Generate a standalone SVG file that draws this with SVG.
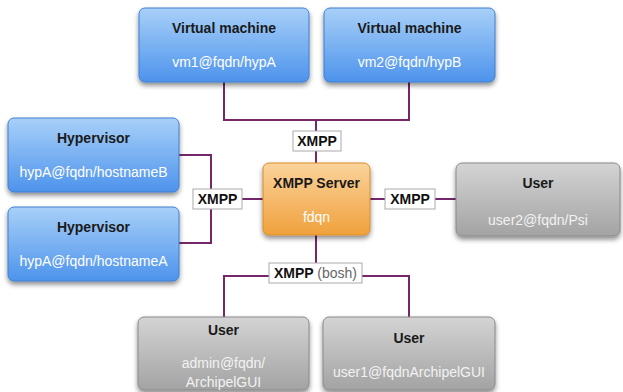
<svg xmlns="http://www.w3.org/2000/svg" width="623" height="392" viewBox="0 0 623 392">
<defs>
<linearGradient id="gBlue" x1="0" y1="0" x2="0" y2="1"><stop offset="0" stop-color="#a8d0f8"/><stop offset="1" stop-color="#4d93ec"/></linearGradient>
<linearGradient id="gGray" x1="0" y1="0" x2="0" y2="1"><stop offset="0" stop-color="#d4d4d4"/><stop offset="1" stop-color="#a3a3a3"/></linearGradient>
<linearGradient id="gOrange" x1="0" y1="0" x2="0" y2="1"><stop offset="0" stop-color="#fad39c"/><stop offset="1" stop-color="#f0a13c"/></linearGradient>
<filter id="sh" x="-10%" y="-10%" width="120%" height="130%"><feDropShadow dx="0" dy="3" stdDeviation="2.5" flood-color="#000" flood-opacity="0.45"/></filter>
</defs>
<style>
.blue{fill:url(#gBlue);stroke:#3f7fcf;stroke-width:1;filter:url(#sh)}
.gray{fill:url(#gGray);stroke:#888;stroke-width:1;filter:url(#sh)}
.orange{fill:url(#gOrange);stroke:#d98c2a;stroke-width:1;filter:url(#sh)}
.t{font-family:"Liberation Sans",Arial,sans-serif;font-size:14px;font-weight:bold;fill:#1a1a1a;text-anchor:middle}
.s{font-family:"Liberation Sans",Arial,sans-serif;font-size:14px;fill:#ffffff;text-anchor:middle}
.sg{font-family:"Liberation Sans",Arial,sans-serif;font-size:14px;fill:#f2f2f2;text-anchor:middle}
.ln{fill:none;stroke:#76266a;stroke-width:2}
.lb{fill:#fff;stroke:#aaa;stroke-width:1}
.lt{font-family:"Liberation Sans",Arial,sans-serif;font-size:14px;font-weight:bold;fill:#111;text-anchor:middle}
.lg{font-weight:normal;fill:#666}
</style>
<g id="connectors">
<path class="ln" d="M224,82 V120 H409 V82"/>
<path class="ln" d="M316,120 V163"/>
<path class="ln" d="M179,155 H211 V243 H179"/>
<path class="ln" d="M211,199 H263"/>
<path class="ln" d="M370,199 H456"/>
<path class="ln" d="M316,235 V276"/>
<path class="ln" d="M224,317 V276 H409 V317"/>
<rect class="lb" x="293" y="131" width="48" height="20"/>
<text class="lt" x="317" y="146">XMPP</text>
<rect class="lb" x="193" y="189" width="49" height="20"/>
<text class="lt" x="217.5" y="204">XMPP</text>
<rect class="lb" x="385" y="189" width="50" height="20"/>
<text class="lt" x="410" y="204">XMPP</text>
<rect class="lb" x="269" y="263" width="93" height="20"/>
<text class="lt" x="315.5" y="278">XMPP <tspan class="lg">(bosh)</tspan></text>
</g>
<g id="vm1">
<rect class="blue" x="139" y="8" width="170" height="74" rx="6"/>
<text class="t" x="224" y="33">Virtual machine</text>
<text class="s" x="224" y="67">vm1@fqdn/hypA</text>
</g>
<g id="vm2">
<rect class="blue" x="324" y="8" width="171" height="74" rx="6"/>
<text class="t" x="409.5" y="33">Virtual machine</text>
<text class="s" x="409.5" y="67">vm2@fqdn/hypB</text>
</g>
<g id="hypB">
<rect class="blue" x="8" y="118" width="171" height="74" rx="6"/>
<text class="t" x="93.5" y="143">Hypervisor</text>
<text class="s" x="93.5" y="177">hypA@fqdn/hostnameB</text>
</g>
<g id="hypA">
<rect class="blue" x="8" y="207" width="171" height="74" rx="6"/>
<text class="t" x="93.5" y="232">Hypervisor</text>
<text class="s" x="93.5" y="266">hypA@fqdn/hostnameA</text>
</g>
<g id="server">
<rect class="orange" x="263" y="163" width="107" height="72" rx="6"/>
<text class="t" x="316.5" y="188">XMPP Server</text>
<text class="s" x="316.5" y="222">fdqn</text>
</g>
<g id="user2">
<rect class="gray" x="456" y="163" width="164" height="73" rx="6"/>
<text class="t" x="538" y="188">User</text>
<text class="sg" x="538" y="225">user2@fqdn/Psi</text>
</g>
<g id="admin">
<rect class="gray" x="138" y="317" width="171" height="73" rx="6"/>
<text class="t" x="223.5" y="335">User</text>
<text class="sg" x="223.5" y="368">admin@fqdn/</text>
<text class="sg" x="223.5" y="387">ArchipelGUI</text>
</g>
<g id="user1">
<rect class="gray" x="323" y="317" width="172" height="73" rx="6"/>
<text class="t" x="409" y="343">User</text>
<text class="sg" x="409" y="377">user1@fqdnArchipelGUI</text>
</g>
</svg>
